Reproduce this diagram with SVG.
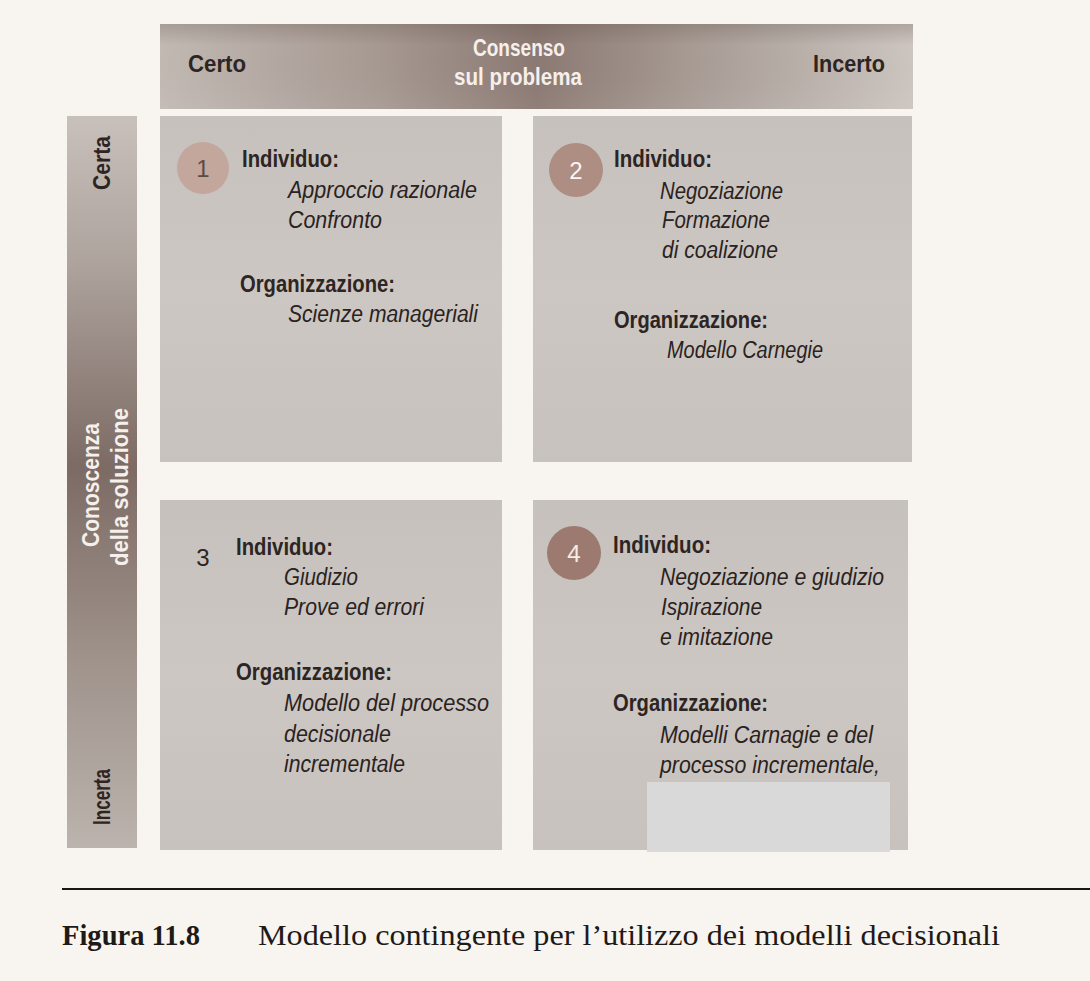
<svg xmlns="http://www.w3.org/2000/svg" width="1090" height="981" viewBox="0 0 1090 981">
  <defs>
    <linearGradient id="headGrad" x1="0" y1="0" x2="1" y2="0">
      <stop offset="0" stop-color="#c2b9b3"/>
      <stop offset="0.3" stop-color="#a59891"/>
      <stop offset="0.5" stop-color="#8b7972"/>
      <stop offset="0.7" stop-color="#a69a93"/>
      <stop offset="1" stop-color="#ccc5c0"/>
    </linearGradient>
    <linearGradient id="headShade" x1="0" y1="0" x2="0" y2="1">
      <stop offset="0" stop-color="#5a4a44" stop-opacity="0.25"/>
      <stop offset="0.25" stop-color="#5a4a44" stop-opacity="0"/>
      <stop offset="1" stop-color="#ffffff" stop-opacity="0.05"/>
    </linearGradient>
    <linearGradient id="sideGrad" x1="0" y1="0" x2="0" y2="1">
      <stop offset="0" stop-color="#c8c0bb"/>
      <stop offset="0.2" stop-color="#aea39d"/>
      <stop offset="0.48" stop-color="#7c6b64"/>
      <stop offset="0.75" stop-color="#a0948d"/>
      <stop offset="1" stop-color="#bbb3ad"/>
    </linearGradient>
    <linearGradient id="cellGrad" x1="0" y1="0" x2="0" y2="1">
      <stop offset="0" stop-color="#c6c1bd"/>
      <stop offset="0.5" stop-color="#ccc7c3"/>
      <stop offset="1" stop-color="#c7c2be"/>
    </linearGradient>
    <style>
      .paper { fill: #f8f4ef; }
      .cell { fill: url(#cellGrad); }
      .hd { font-family: "Liberation Sans", Arial, sans-serif; font-weight: bold; font-size: 24px; fill: #2e2523; }
      .hdw { font-family: "Liberation Sans", Arial, sans-serif; font-weight: bold; font-size: 24px; fill: #f6f0ec; }
      .lbl { font-family: "Liberation Sans", Arial, sans-serif; font-weight: bold; font-size: 24px; fill: #2e2523; }
      .it { font-family: "Liberation Sans", Arial, sans-serif; font-style: italic; font-size: 23px; fill: #2a2220; }
      .num { font-family: "Liberation Sans", Arial, sans-serif; font-size: 24px; text-anchor: middle; }
      .cap { font-family: "Liberation Serif", "Times New Roman", serif; font-size: 29px; fill: #1e1a18; }
    </style>
  </defs>

  <!-- page -->
  <rect class="paper" x="0" y="0" width="1090" height="981"/>

  <!-- top axis: consensus on the problem -->
  <g id="axis-consenso">
    <rect x="160" y="24" width="753" height="85" fill="url(#headGrad)"/>
    <rect x="160" y="24" width="753" height="85" fill="url(#headShade)"/>
    <text class="hd" x="188" y="72" textLength="58" lengthAdjust="spacingAndGlyphs">Certo</text>
    <text class="hdw" x="519" y="56" text-anchor="middle" textLength="92" lengthAdjust="spacingAndGlyphs">Consenso</text>
    <text class="hdw" x="518" y="85" text-anchor="middle" textLength="128" lengthAdjust="spacingAndGlyphs">sul problema</text>
    <text class="hd" x="885" y="72" text-anchor="end" textLength="72" lengthAdjust="spacingAndGlyphs">Incerto</text>
  </g>

  <!-- side axis: knowledge of the solution -->
  <g id="axis-conoscenza">
    <rect x="67" y="116" width="70" height="732" fill="url(#sideGrad)"/>
    <text class="hd" transform="translate(110,163) rotate(-90)" text-anchor="middle" textLength="54" lengthAdjust="spacingAndGlyphs">Certa</text>
    <text class="hdw" transform="translate(99,485) rotate(-90)" text-anchor="middle" textLength="124" lengthAdjust="spacingAndGlyphs">Conoscenza</text>
    <text class="hdw" transform="translate(128,487) rotate(-90)" text-anchor="middle" textLength="158" lengthAdjust="spacingAndGlyphs">della soluzione</text>
    <text class="hd" transform="translate(110,797) rotate(-90)" text-anchor="middle" textLength="56" lengthAdjust="spacingAndGlyphs">Incerta</text>
  </g>

  <!-- quadrant 1 -->
  <g id="q1">
    <rect class="cell" x="160" y="116" width="342" height="346"/>
    <circle cx="203" cy="168" r="26" fill="#c3a69c"/>
    <text class="num" x="203" y="177" fill="#5b4c47">1</text>
    <text class="lbl" x="242" y="167" textLength="97" lengthAdjust="spacingAndGlyphs">Individuo:</text>
    <text class="it" x="288" y="198" textLength="189" lengthAdjust="spacingAndGlyphs">Approccio razionale</text>
    <text class="it" x="288" y="228" textLength="94" lengthAdjust="spacingAndGlyphs">Confronto</text>
    <text class="lbl" x="240" y="292" textLength="155" lengthAdjust="spacingAndGlyphs">Organizzazione:</text>
    <text class="it" x="288" y="322" textLength="190" lengthAdjust="spacingAndGlyphs">Scienze manageriali</text>
  </g>

  <!-- quadrant 2 -->
  <g id="q2">
    <rect class="cell" x="533" y="116" width="379" height="346"/>
    <circle cx="576" cy="170" r="27" fill="#ae8d82"/>
    <text class="num" x="576" y="179" fill="#fbf6f3">2</text>
    <text class="lbl" x="614" y="167" textLength="98" lengthAdjust="spacingAndGlyphs">Individuo:</text>
    <text class="it" x="660" y="199" textLength="123" lengthAdjust="spacingAndGlyphs">Negoziazione</text>
    <text class="it" x="662" y="228" textLength="108" lengthAdjust="spacingAndGlyphs">Formazione</text>
    <text class="it" x="662" y="258" textLength="116" lengthAdjust="spacingAndGlyphs">di coalizione</text>
    <text class="lbl" x="614" y="328" textLength="154" lengthAdjust="spacingAndGlyphs">Organizzazione:</text>
    <text class="it" x="667" y="358" textLength="156" lengthAdjust="spacingAndGlyphs">Modello Carnegie</text>
  </g>

  <!-- quadrant 3 -->
  <g id="q3">
    <rect class="cell" x="160" y="500" width="342" height="350"/>
    <text class="num" x="203" y="566" fill="#2e2523">3</text>
    <text class="lbl" x="236" y="555" textLength="97" lengthAdjust="spacingAndGlyphs">Individuo:</text>
    <text class="it" x="284" y="585" textLength="74" lengthAdjust="spacingAndGlyphs">Giudizio</text>
    <text class="it" x="284" y="615" textLength="140" lengthAdjust="spacingAndGlyphs">Prove ed errori</text>
    <text class="lbl" x="236" y="680" textLength="156" lengthAdjust="spacingAndGlyphs">Organizzazione:</text>
    <text class="it" x="284" y="711" textLength="205" lengthAdjust="spacingAndGlyphs">Modello del processo</text>
    <text class="it" x="284" y="742" textLength="107" lengthAdjust="spacingAndGlyphs">decisionale</text>
    <text class="it" x="284" y="772" textLength="121" lengthAdjust="spacingAndGlyphs">incrementale</text>
  </g>

  <!-- quadrant 4 -->
  <g id="q4">
    <rect class="cell" x="533" y="500" width="375" height="350"/>
    <circle cx="574" cy="553" r="27" fill="#9c7a6f"/>
    <text class="num" x="574" y="562" fill="#f4ece8">4</text>
    <text class="lbl" x="613" y="553" textLength="98" lengthAdjust="spacingAndGlyphs">Individuo:</text>
    <text class="it" x="660" y="585" textLength="224" lengthAdjust="spacingAndGlyphs">Negoziazione e giudizio</text>
    <text class="it" x="661" y="615" textLength="101" lengthAdjust="spacingAndGlyphs">Ispirazione</text>
    <text class="it" x="660" y="645" textLength="113" lengthAdjust="spacingAndGlyphs">e imitazione</text>
    <text class="lbl" x="613" y="711" textLength="155" lengthAdjust="spacingAndGlyphs">Organizzazione:</text>
    <text class="it" x="660" y="743" textLength="213" lengthAdjust="spacingAndGlyphs">Modelli Carnagie e del</text>
    <text class="it" x="660" y="773" textLength="220" lengthAdjust="spacingAndGlyphs">processo incrementale,</text>
    <rect x="647" y="782" width="243" height="70" fill="#d9d9d9"/>
  </g>

  <!-- caption -->
  <g id="caption">
    <line x1="62" y1="889" x2="1090" y2="889" stroke="#1a1614" stroke-width="2"/>
    <text class="cap" x="62" y="945" font-weight="bold" textLength="138" lengthAdjust="spacingAndGlyphs">Figura 11.8</text>
    <text class="cap" x="258" y="945" textLength="742" lengthAdjust="spacingAndGlyphs">Modello contingente per l’utilizzo dei modelli decisionali</text>
  </g>
</svg>
